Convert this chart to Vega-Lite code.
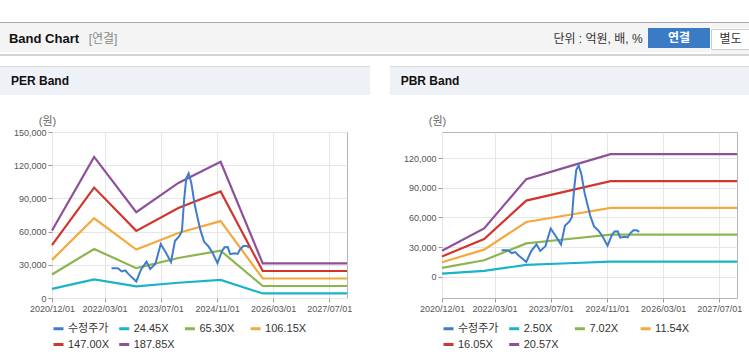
{
  "$schema": "https://vega.github.io/schema/vega-lite/v6.json",
  "padding": {"left": 0, "top": 22, "right": 0, "bottom": 0},
  "autosize": {"type": "pad"},
  "background": "#ffffff",
  "spacing": 0,
  "resolve": {"scale": {"color": "independent"}, "legend": {"color": "independent"}},
  "config": {
    "font": "Liberation Sans, Noto Sans CJK KR",
    "text": {"font": "Liberation Sans, Noto Sans CJK KR"},
    "view": {"stroke": null}
  },
  "datasets": {
    "perBands": [
      {"date": "2020-12-01", "series": "24.45X", "value": 8300},
      {"date": "2021-12-01", "series": "24.45X", "value": 16800},
      {"date": "2022-12-01", "series": "24.45X", "value": 10500},
      {"date": "2023-12-01", "series": "24.45X", "value": 13800},
      {"date": "2024-12-01", "series": "24.45X", "value": 16300},
      {"date": "2025-12-01", "series": "24.45X", "value": 4100},
      {"date": "2027-12-01", "series": "24.45X", "value": 4100},
      {"date": "2020-12-01", "series": "65.30X", "value": 21200},
      {"date": "2021-12-01", "series": "65.30X", "value": 44320},
      {"date": "2022-12-01", "series": "65.30X", "value": 26940},
      {"date": "2023-12-01", "series": "65.30X", "value": 36150},
      {"date": "2024-12-01", "series": "65.30X", "value": 42760},
      {"date": "2025-12-01", "series": "65.30X", "value": 10850},
      {"date": "2027-12-01", "series": "65.30X", "value": 10850},
      {"date": "2020-12-01", "series": "106.15X", "value": 34470},
      {"date": "2021-12-01", "series": "106.15X", "value": 72040},
      {"date": "2022-12-01", "series": "106.15X", "value": 43800},
      {"date": "2023-12-01", "series": "106.15X", "value": 58760},
      {"date": "2024-12-01", "series": "106.15X", "value": 69510},
      {"date": "2025-12-01", "series": "106.15X", "value": 17630},
      {"date": "2027-12-01", "series": "106.15X", "value": 17630},
      {"date": "2020-12-01", "series": "147.00X", "value": 47730},
      {"date": "2021-12-01", "series": "147.00X", "value": 99770},
      {"date": "2022-12-01", "series": "147.00X", "value": 60650},
      {"date": "2023-12-01", "series": "147.00X", "value": 81380},
      {"date": "2024-12-01", "series": "147.00X", "value": 96260},
      {"date": "2025-12-01", "series": "147.00X", "value": 24420},
      {"date": "2027-12-01", "series": "147.00X", "value": 24420},
      {"date": "2020-12-01", "series": "187.85X", "value": 61000},
      {"date": "2021-12-01", "series": "187.85X", "value": 127500},
      {"date": "2022-12-01", "series": "187.85X", "value": 77500},
      {"date": "2023-12-01", "series": "187.85X", "value": 104000},
      {"date": "2024-12-01", "series": "187.85X", "value": 123000},
      {"date": "2025-12-01", "series": "187.85X", "value": 31200},
      {"date": "2027-12-01", "series": "187.85X", "value": 31200}
    ],
    "pbrBands": [
      {"date": "2020-12-01", "series": "2.50X", "value": 3200},
      {"date": "2021-12-01", "series": "2.50X", "value": 5940},
      {"date": "2022-12-01", "series": "2.50X", "value": 12010},
      {"date": "2023-12-01", "series": "2.50X", "value": 13650},
      {"date": "2024-12-01", "series": "2.50X", "value": 15300},
      {"date": "2027-12-01", "series": "2.50X", "value": 15300},
      {"date": "2020-12-01", "series": "7.02X", "value": 8980},
      {"date": "2021-12-01", "series": "7.02X", "value": 16690},
      {"date": "2022-12-01", "series": "7.02X", "value": 33720},
      {"date": "2023-12-01", "series": "7.02X", "value": 38200},
      {"date": "2024-12-01", "series": "7.02X", "value": 42700},
      {"date": "2027-12-01", "series": "7.02X", "value": 42700},
      {"date": "2020-12-01", "series": "11.54X", "value": 14750},
      {"date": "2021-12-01", "series": "11.54X", "value": 27430},
      {"date": "2022-12-01", "series": "11.54X", "value": 55430},
      {"date": "2023-12-01", "series": "11.54X", "value": 62520},
      {"date": "2024-12-01", "series": "11.54X", "value": 69620},
      {"date": "2027-12-01", "series": "11.54X", "value": 69620},
      {"date": "2020-12-01", "series": "16.05X", "value": 20520},
      {"date": "2021-12-01", "series": "16.05X", "value": 38150},
      {"date": "2022-12-01", "series": "16.05X", "value": 77090},
      {"date": "2023-12-01", "series": "16.05X", "value": 86960},
      {"date": "2024-12-01", "series": "16.05X", "value": 96830},
      {"date": "2027-12-01", "series": "16.05X", "value": 96830},
      {"date": "2020-12-01", "series": "20.57X", "value": 26300},
      {"date": "2021-12-01", "series": "20.57X", "value": 48900},
      {"date": "2022-12-01", "series": "20.57X", "value": 98800},
      {"date": "2023-12-01", "series": "20.57X", "value": 111450},
      {"date": "2024-12-01", "series": "20.57X", "value": 124100},
      {"date": "2027-12-01", "series": "20.57X", "value": 124100}
    ],
    "price": [
      {"date": "2022-05-01", "series": "수정주가", "value": 26900},
      {"date": "2022-06-25", "series": "수정주가", "value": 26900},
      {"date": "2022-07-28", "series": "수정주가", "value": 24000},
      {"date": "2022-08-28", "series": "수정주가", "value": 25000},
      {"date": "2022-09-21", "series": "수정주가", "value": 22000},
      {"date": "2022-12-01", "series": "수정주가", "value": 15000},
      {"date": "2023-01-13", "series": "수정주가", "value": 26000},
      {"date": "2023-02-28", "series": "수정주가", "value": 32800},
      {"date": "2023-04-01", "series": "수정주가", "value": 26200},
      {"date": "2023-05-16", "series": "수정주가", "value": 31000},
      {"date": "2023-07-01", "series": "수정주가", "value": 48800},
      {"date": "2023-08-13", "series": "수정주가", "value": 41300},
      {"date": "2023-09-28", "series": "수정주가", "value": 32500},
      {"date": "2023-11-01", "series": "수정주가", "value": 51500},
      {"date": "2023-12-10", "series": "수정주가", "value": 56000},
      {"date": "2024-01-01", "series": "수정주가", "value": 60500},
      {"date": "2024-01-19", "series": "수정주가", "value": 88000},
      {"date": "2024-02-07", "series": "수정주가", "value": 108000},
      {"date": "2024-02-28", "series": "수정주가", "value": 112700},
      {"date": "2024-03-22", "series": "수정주가", "value": 104000},
      {"date": "2024-04-21", "series": "수정주가", "value": 84000},
      {"date": "2024-06-07", "series": "수정주가", "value": 62000},
      {"date": "2024-07-10", "series": "수정주가", "value": 51000},
      {"date": "2024-08-16", "series": "수정주가", "value": 46800},
      {"date": "2024-09-19", "series": "수정주가", "value": 41500},
      {"date": "2024-11-04", "series": "수정주가", "value": 31500},
      {"date": "2024-12-13", "series": "수정주가", "value": 42500},
      {"date": "2025-01-04", "series": "수정주가", "value": 45800},
      {"date": "2025-02-01", "series": "수정주가", "value": 46000},
      {"date": "2025-02-22", "series": "수정주가", "value": 39600},
      {"date": "2025-04-01", "series": "수정주가", "value": 40500},
      {"date": "2025-04-28", "series": "수정주가", "value": 39800},
      {"date": "2025-05-16", "series": "수정주가", "value": 43500},
      {"date": "2025-06-16", "series": "수정주가", "value": 47000},
      {"date": "2025-07-16", "series": "수정주가", "value": 47000},
      {"date": "2025-08-06", "series": "수정주가", "value": 45500}
    ]
  },
  "vconcat": [
    {"width": 749, "height": 1, "view": {"fill": "#a9a9a9"}, "data": {"values": []}, "mark": "text"},
    {
      "hconcat": [
        {"width": 88, "height": 29, "view": {"fill": "#f4f4f4"}, "data": {"values": [{"t": "Band Chart"}]}, "mark": {"type": "text", "fontSize": 13, "fontWeight": "bold", "color": "#111111", "dy": 1}, "encoding": {"text": {"field": "t"}}},
        {"width": 30, "height": 29, "view": {"fill": "#f4f4f4"}, "data": {"values": [{"t": "[연결]"}]}, "mark": {"type": "text", "fontSize": 12, "color": "#8a8a8a", "dy": 1}, "encoding": {"text": {"field": "t"}}},
        {"width": 430, "height": 29, "view": {"fill": "#f4f4f4"}, "data": {"values": []}, "mark": "text"},
        {"width": 100, "height": 29, "view": {"fill": "#f4f4f4"}, "data": {"values": [{"t": "단위 : 억원, 배, %"}]}, "mark": {"type": "text", "fontSize": 12, "color": "#333333", "dy": 1}, "encoding": {"text": {"field": "t"}}},
        {
          "vconcat": [
            {"width": 62, "height": 5, "view": {"fill": "#f4f4f4"}, "data": {"values": []}, "mark": "text"},
            {"width": 62, "height": 20, "view": {"fill": "#3a7bc6"}, "data": {"values": [{"t": "연결"}]}, "mark": {"type": "text", "fontSize": 12, "fontWeight": "bold", "color": "#ffffff"}, "encoding": {"text": {"field": "t"}}},
            {"width": 62, "height": 4, "view": {"fill": "#f4f4f4"}, "data": {"values": []}, "mark": "text"}
          ],
          "spacing": 0
        },
        {
          "vconcat": [
            {"width": 39, "height": 5, "view": {"fill": "#f4f4f4"}, "data": {"values": []}, "mark": "text"},
            {"width": 39, "height": 20, "view": {"fill": "#ffffff", "stroke": "#cccccc"}, "data": {"values": [{"t": "별도"}]}, "mark": {"type": "text", "fontSize": 12, "color": "#333333"}, "encoding": {"text": {"field": "t"}}},
            {"width": 39, "height": 4, "view": {"fill": "#f4f4f4"}, "data": {"values": []}, "mark": "text"}
          ],
          "spacing": 0
        }
      ],
      "spacing": 0
    },
    {"width": 749, "height": 2, "view": {"fill": "#d4d4d4"}, "data": {"values": []}, "mark": "text"},
    {"width": 749, "height": 10, "view": {"fill": "#ffffff"}, "data": {"values": []}, "mark": "text"},
    {
      "hconcat": [
        {
          "vconcat": [
            {"width": 370, "height": 1, "view": {"fill": "#d8d8d8"}, "data": {"values": []}, "mark": "text"},
            {
              "hconcat": [
                {"width": 80, "height": 28, "view": {"fill": "#eef2f7"}, "data": {"values": [{"t": "PER Band"}]}, "mark": {"type": "text", "fontSize": 12, "fontWeight": "bold", "color": "#111111"}, "encoding": {"text": {"field": "t"}}},
                {"width": 290, "height": 28, "view": {"fill": "#eef2f7"}, "data": {"values": []}, "mark": "text"}
              ],
              "spacing": 0
            },
            {"width": 370, "height": 19, "view": {"fill": "#ffffff"}, "data": {"values": []}, "mark": "text"},
            {
              "hconcat": [
                {"width": 52, "height": 166, "view": {"fill": "#ffffff"}, "data": {"values": []}, "mark": "text"},
                {
                  "width": 295, "height": 166,
                  "view": {"stroke": "#b4b4b4", "fill": "#ffffff"},
                  "encoding": {
                    "x": {"field": "date", "type": "temporal",
                      "scale": {"type": "utc", "domain": [{"year": 2020, "month": 12, "date": 1, "utc": true}, {"year": 2027, "month": 12, "date": 1, "utc": true}]},
                      "axis": {"values": [{"year": 2020, "month": 12, "date": 1, "utc": true}, {"year": 2022, "month": 3, "date": 1, "utc": true}, {"year": 2023, "month": 7, "date": 1, "utc": true}, {"year": 2024, "month": 11, "date": 1, "utc": true}, {"year": 2026, "month": 3, "date": 1, "utc": true}, {"year": 2027, "month": 7, "date": 1, "utc": true}],
                        "labelExpr": "utcFormat(datum.value, '%Y/%m/%d')", "labelAngle": 0, "labelFontSize": 9, "labelColor": "#555555", "tickSize": 4, "tickColor": "#999999", "domain": false, "grid": true, "gridColor": "#e6e6e6", "title": null, "labelOverlap": false, "labelFlush": false, "labelPadding": 2}},
                    "y": {"field": "value", "type": "quantitative",
                      "scale": {"domain": [0, 150000], "nice": false, "zero": false},
                      "axis": {"values": [0, 30000, 60000, 90000, 120000, 150000], "format": ",d", "labelFontSize": 9, "labelColor": "#555555", "tickSize": 4, "tickColor": "#999999", "domain": false, "grid": true, "gridColor": "#e6e6e6", "labelPadding": 2,
                        "title": "(원)", "titleAngle": 0, "titleX": -5, "titleY": -11, "titleAlign": "center", "titleBaseline": "middle", "titleFontSize": 11, "titleFontWeight": "normal", "titleColor": "#666666"}},
                    "color": {"field": "series", "type": "nominal",
                      "scale": {"domain": ["수정주가", "24.45X", "65.30X", "106.15X", "147.00X", "187.85X"], "range": ["#3f7ccb", "#1ab3c8", "#8bb54f", "#f4a83d", "#d2342e", "#8d509b"]},
                      "legend": {"orient": "bottom", "direction": "horizontal", "columns": 4, "title": null, "symbolType": "stroke", "symbolStrokeWidth": 3, "symbolSize": 100, "labelFontSize": 11, "labelColor": "#333333", "labelOffset": 3, "columnPadding": 3.7, "rowPadding": 3, "gridAlign": "all", "offset": 9, "padding": 0}}
                  },
                  "layer": [
                    {"data": {"name": "perBands"}, "mark": {"type": "line", "strokeWidth": 2.2}},
                    {"data": {"name": "price"}, "mark": {"type": "line", "strokeWidth": 2}}
                  ]
                }
              ],
              "spacing": 0, "bounds": "flush",
              "resolve": {"scale": {"color": "independent"}, "legend": {"color": "independent"}}
            },
            {"width": 370, "height": 12, "view": {"fill": "#ffffff"}, "data": {"values": []}, "mark": "text"},
            {"width": 370, "height": 1, "view": {"fill": "#cfcfcf"}, "data": {"values": []}, "mark": "text"}
          ],
          "spacing": 0,
          "resolve": {"scale": {"color": "independent"}, "legend": {"color": "independent"}}
        },
        {
          "vconcat": [
            {"width": 359, "height": 1, "view": {"fill": "#d8d8d8"}, "data": {"values": []}, "mark": "text"},
            {
              "hconcat": [
                {"width": 80, "height": 28, "view": {"fill": "#eef2f7"}, "data": {"values": [{"t": "PBR Band"}]}, "mark": {"type": "text", "fontSize": 12, "fontWeight": "bold", "color": "#111111"}, "encoding": {"text": {"field": "t"}}},
                {"width": 279, "height": 28, "view": {"fill": "#eef2f7"}, "data": {"values": []}, "mark": "text"}
              ],
              "spacing": 0
            },
            {"width": 359, "height": 19, "view": {"fill": "#ffffff"}, "data": {"values": []}, "mark": "text"},
            {
              "hconcat": [
                {"width": 52, "height": 166, "view": {"fill": "#ffffff"}, "data": {"values": []}, "mark": "text"},
                {
                  "width": 295, "height": 166,
                  "view": {"stroke": "#b4b4b4", "fill": "#ffffff"},
                  "encoding": {
                    "x": {"field": "date", "type": "temporal",
                      "scale": {"type": "utc", "domain": [{"year": 2020, "month": 12, "date": 1, "utc": true}, {"year": 2027, "month": 12, "date": 1, "utc": true}]},
                      "axis": {"values": [{"year": 2020, "month": 12, "date": 1, "utc": true}, {"year": 2022, "month": 3, "date": 1, "utc": true}, {"year": 2023, "month": 7, "date": 1, "utc": true}, {"year": 2024, "month": 11, "date": 1, "utc": true}, {"year": 2026, "month": 3, "date": 1, "utc": true}, {"year": 2027, "month": 7, "date": 1, "utc": true}],
                        "labelExpr": "utcFormat(datum.value, '%Y/%m/%d')", "labelAngle": 0, "labelFontSize": 9, "labelColor": "#555555", "tickSize": 4, "tickColor": "#999999", "domain": false, "grid": true, "gridColor": "#e6e6e6", "title": null, "labelOverlap": false, "labelFlush": false, "labelPadding": 2}},
                    "y": {"field": "value", "type": "quantitative",
                      "scale": {"domain": [-21500, 146500], "nice": false, "zero": false},
                      "axis": {"values": [0, 30000, 60000, 90000, 120000], "format": ",d", "labelFontSize": 9, "labelColor": "#555555", "tickSize": 4, "tickColor": "#999999", "domain": false, "grid": true, "gridColor": "#e6e6e6", "labelPadding": 2,
                        "title": "(원)", "titleAngle": 0, "titleX": -5, "titleY": -11, "titleAlign": "center", "titleBaseline": "middle", "titleFontSize": 11, "titleFontWeight": "normal", "titleColor": "#666666"}},
                    "color": {"field": "series", "type": "nominal",
                      "scale": {"domain": ["수정주가", "2.50X", "7.02X", "11.54X", "16.05X", "20.57X"], "range": ["#3f7ccb", "#1ab3c8", "#8bb54f", "#f4a83d", "#d2342e", "#8d509b"]},
                      "legend": {"orient": "bottom", "direction": "horizontal", "columns": 4, "title": null, "symbolType": "stroke", "symbolStrokeWidth": 3, "symbolSize": 100, "labelFontSize": 11, "labelColor": "#333333", "labelOffset": 3, "columnPadding": 3.7, "rowPadding": 3, "gridAlign": "all", "offset": 9, "padding": 0}}
                  },
                  "layer": [
                    {"data": {"name": "pbrBands"}, "mark": {"type": "line", "strokeWidth": 2.2}},
                    {"data": {"name": "price"}, "mark": {"type": "line", "strokeWidth": 2}}
                  ]
                }
              ],
              "spacing": 0, "bounds": "flush",
              "resolve": {"scale": {"color": "independent"}, "legend": {"color": "independent"}}
            },
            {"width": 359, "height": 12, "view": {"fill": "#ffffff"}, "data": {"values": []}, "mark": "text"},
            {"width": 359, "height": 1, "view": {"fill": "#cfcfcf"}, "data": {"values": []}, "mark": "text"}
          ],
          "spacing": 0,
          "resolve": {"scale": {"color": "independent"}, "legend": {"color": "independent"}}
        }
      ],
      "spacing": 20,
      "resolve": {"scale": {"color": "independent"}, "legend": {"color": "independent"}}
    }
  ]
}
